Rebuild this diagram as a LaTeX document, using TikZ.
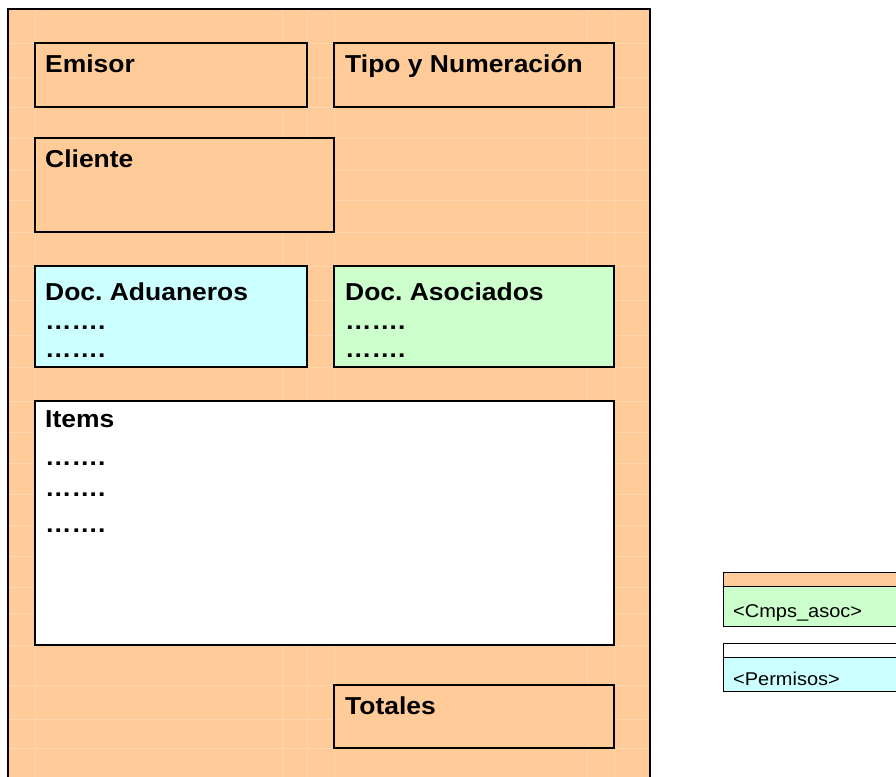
\documentclass[tikz,border=0pt]{standalone}
\usepackage{fontspec}
\setmainfont{Liberation Sans}[FakeStretch=1.08]
\frenchspacing
\definecolor{peach}{HTML}{FFCC99}
\definecolor{gridc}{HTML}{FFD6AE}
\definecolor{aqua}{HTML}{CCFFFF}
\definecolor{mint}{HTML}{CCFFCC}
\tikzset{
  box/.style={draw=black, line width=1.3pt, anchor=north west, inner sep=0pt, outer sep=0pt},
  title/.style={anchor=base west, inner sep=0pt, font=\fontsize{24.5}{28}\selectfont\bfseries},
  dots/.style={anchor=base west, inner sep=0pt, font=\fontsize{24.5}{28}\selectfont\bfseries},
  legtext/.style={anchor=base west, inner sep=0pt, font=\fontsize{18.5}{22}\selectfont},
  gridline/.style={draw=gridc, line width=0.7pt}
}
\begin{document}
\begin{tikzpicture}[x=1pt,y=-1pt]
\useasboundingbox (0,0) rectangle (896,776);
\clip (0,0) rectangle (896,776);
% page background
\fill[white] (0,0) rectangle (896,776);
% sheet
\fill[peach] (8,9) rectangle (650,800);
\foreach \gx in {35,282,307,334,587,614} \draw[gridline] (\gx,9) -- (\gx,800);
\foreach \gy in {43,77,107,138,170,200,232,266,300,335,367,401,432,463,494,525,556,587,613,645,685,719,748} \draw[gridline] (8,\gy) -- (650,\gy);
\draw[line width=2pt] (8,800) -- (8,9) -- (650,9) -- (650,800);
% boxes
\node[box, fill=peach, minimum width=272pt, minimum height=64pt] (emisor) at (35,43) {};
\node[box, fill=peach, minimum width=280pt, minimum height=64pt] (tipo) at (334,43) {};
\node[box, fill=peach, minimum width=299pt, minimum height=94pt] (cliente) at (35,138) {};
\node[box, fill=aqua, minimum width=272pt, minimum height=101pt] (docad) at (35,266) {};
\node[box, fill=mint, minimum width=280pt, minimum height=101pt] (docas) at (334,266) {};
\node[box, fill=white, minimum width=579pt, minimum height=244pt] (items) at (35,401) {};
\node[box, fill=peach, minimum width=280pt, minimum height=63pt] (totales) at (334,685) {};
% texts
\node[title] (temisor) at (45,72) {Emisor};
\node[title] (ttipo) at (345,72) {Tipo y Numeración};
\node[title] (tcliente) at (45,167) {Cliente};
\node[title] (tdocad) at (45,300) {Doc. Aduaneros};
\node[dots] (dad1) at (45,329) {…….};
\node[dots] (dad2) at (45,357) {…….};
\node[title] (tdocas) at (345,300) {Doc. Asociados};
\node[dots] (das1) at (345,329) {…….};
\node[dots] (das2) at (345,357) {…….};
\node[title] (titems) at (45,427) {Items};
\node[dots] (dit1) at (45,465) {…….};
\node[dots] (dit2) at (45,496) {…….};
\node[dots] (dit3) at (45,532) {…….};
\node[title] (ttotales) at (345,714) {Totales};
% legend
\node[box, line width=1pt, fill=peach, minimum width=200pt, minimum height=14pt] (leg1h) at (723,572) {};
\node[box, line width=1pt, fill=mint, minimum width=200pt, minimum height=40pt] (leg1b) at (723,586) {};
\node[legtext] (leg1t) at (733,617) {<Cmps\_asoc>};
\node[box, line width=1pt, fill=white, minimum width=200pt, minimum height=14pt] (leg2h) at (723,643) {};
\node[box, line width=1pt, fill=aqua, minimum width=200pt, minimum height=34pt] (leg2b) at (723,657) {};
\node[legtext] (leg2t) at (733,685) {<Permisos>};
\end{tikzpicture}
\end{document}
